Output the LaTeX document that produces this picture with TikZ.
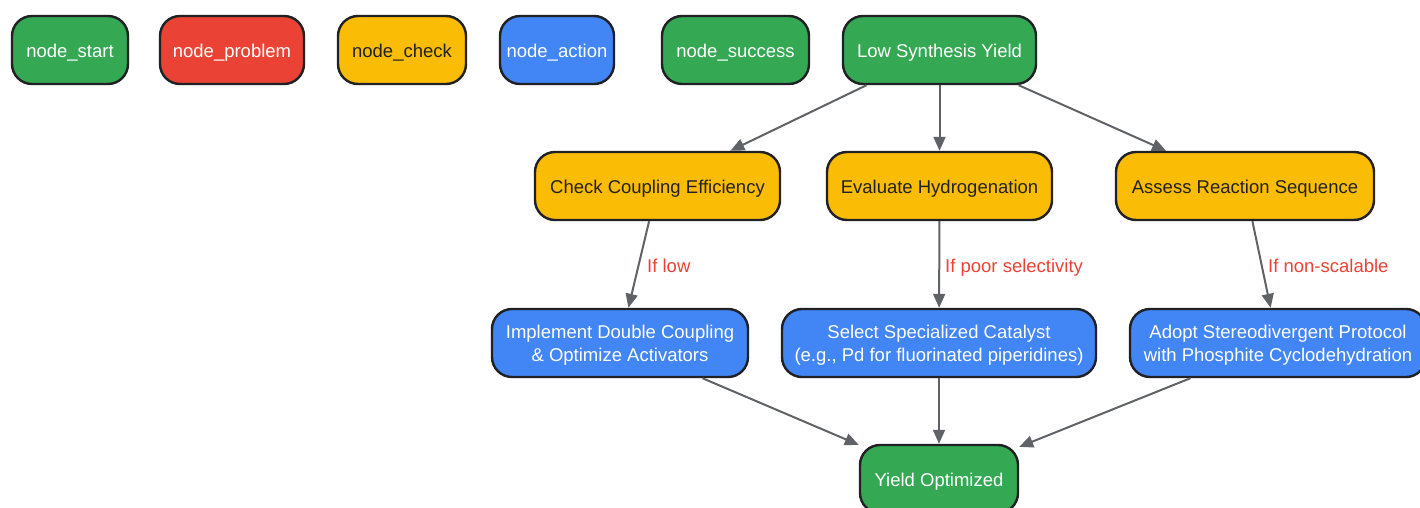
\documentclass[tikz,border=0pt]{standalone}
\usepackage{fontspec}
\setmainfont{Liberation Sans}
\usetikzlibrary{arrows.meta}
\definecolor{cgreen}{HTML}{34A853}
\definecolor{cred}{HTML}{EA4335}
\definecolor{cyellow}{HTML}{FBBC05}
\definecolor{cblue}{HTML}{4285F4}
\definecolor{cborder}{HTML}{202124}
\definecolor{cedge}{HTML}{5F6368}
\definecolor{cdark}{HTML}{202124}
\tikzset{
  box/.style={draw=cborder, line width=2.4pt, rounded corners=20pt, minimum height=68pt,
    inner sep=0pt, align=center, font=\fontsize{18.5}{23}\selectfont, text depth=0pt},
  oneline/.style={text height=15pt},
  gbox/.style={box, fill=cgreen, text=white},
  rbox/.style={box, fill=cred, text=white},
  ybox/.style={box, fill=cyellow, text=cdark},
  bbox/.style={box, fill=cblue, text=white},
  conn/.style={draw=cedge, line width=2pt, -{Triangle[length=14pt,width=12pt]}},
  lbl/.style={text=cred, anchor=west, inner sep=0pt, font=\fontsize{18.5}{23}\selectfont,
    text height=15pt, text depth=0pt},
}
\begin{document}
\begin{tikzpicture}[x=1pt,y=-1pt]
\useasboundingbox (0,0) rectangle (1420,507);
% legend
\node[gbox, oneline, minimum width=116pt] (lstart) at (70,50) {node\_start};
\node[rbox, oneline, minimum width=144pt] (lproblem) at (232,50) {node\_problem};
\node[ybox, oneline, minimum width=128pt] (lcheck) at (402,50) {node\_check};
\node[bbox, oneline, minimum width=114pt] (laction) at (557,50) {node\_action};
\node[gbox, oneline, minimum width=147pt] (lsuccess) at (735.5,50) {node\_success};
% main
\node[gbox, oneline, minimum width=193pt] (top) at (939.5,50) {Low Synthesis Yield};
\node[ybox, oneline, minimum width=245pt] (c1) at (657.5,186) {Check Coupling Efficiency};
\node[ybox, oneline, minimum width=225pt] (c2) at (939.5,186) {Evaluate Hydrogenation};
\node[ybox, oneline, minimum width=258pt] (c3) at (1245,186) {Assess Reaction Sequence};
\node[bbox, minimum width=256pt] (a1) at (620,343) {Implement Double Coupling\\\& Optimize Activators};
\node[bbox, minimum width=314pt] (a2) at (939,343) {Select Specialized Catalyst\\(e.g., Pd for fluorinated piperidines)};
\node[bbox, minimum width=296pt] (a3) at (1278,343) {Adopt Stereodivergent Protocol\\with Phosphite Cyclodehydration};
\node[gbox, oneline, minimum width=158pt] (fin) at (939,479) {Yield Optimized};
% edges
\draw[conn] (top) -- (c1);
\draw[conn] (top) -- (c2);
\draw[conn] (top) -- (c3);
\draw[conn] (c1) -- (a1);
\draw[conn] (c2) -- (a2);
\draw[conn] (c3) -- (a3);
\draw[conn] (a1) -- (fin);
\draw[conn] (a2) -- (fin);
\draw[conn] (a3) -- (fin);
% labels
\node[lbl] (l1) at (647,265) {If low};
\node[lbl] (l2) at (945,265) {If poor selectivity};
\node[lbl] (l3) at (1268,265) {If non-scalable};
\end{tikzpicture}
\end{document}
